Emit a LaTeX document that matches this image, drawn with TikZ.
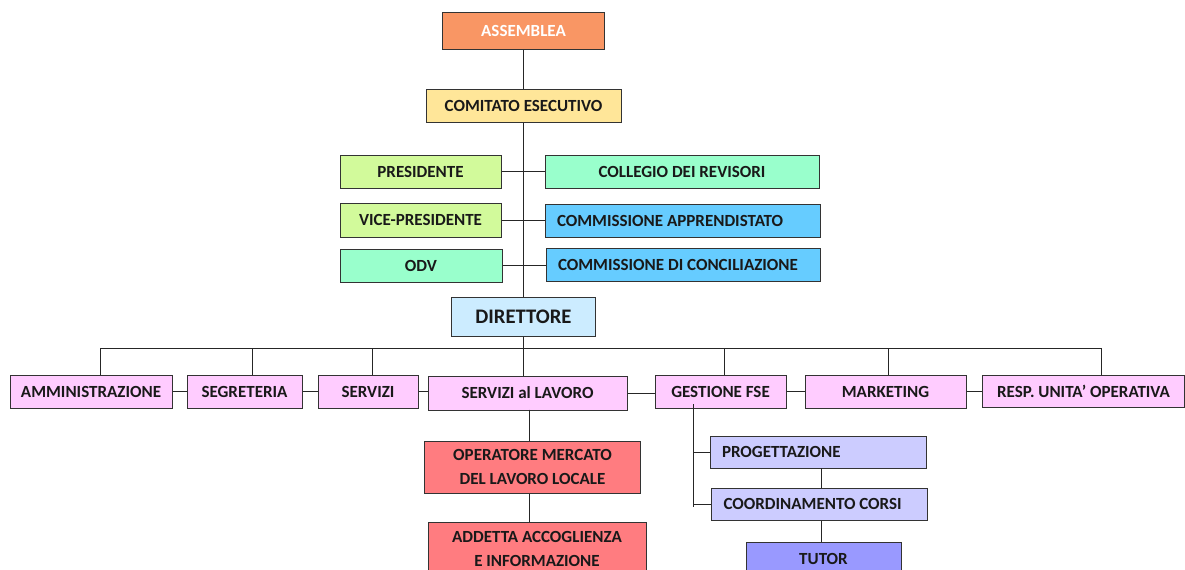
\documentclass[tikz,border=0pt]{standalone}
\usepackage{fontspec}
\setmainfont{Carlito}
\definecolor{assorange}{RGB}{249,150,100}
\definecolor{comyellow}{RGB}{255,230,153}
\definecolor{presgreen}{RGB}{210,250,155}
\definecolor{mint}{RGB}{153,255,204}
\definecolor{commblue}{RGB}{102,204,255}
\definecolor{dirblue}{RGB}{204,236,255}
\definecolor{rowpink}{RGB}{255,204,255}
\definecolor{opred}{RGB}{255,124,128}
\definecolor{lavender}{RGB}{204,204,255}
\definecolor{tutorblue}{RGB}{153,153,255}

\begin{document}
\begin{tikzpicture}[x=0.75pt,y=-0.75pt,
    box/.style={draw=black!80,line width=0.75pt,inner sep=0pt,text=black!90,
      font=\bfseries\fontsize{12.75}{18}\selectfont},
    leftbox/.style={box,inner xsep=9pt,align=flush left},
    twoline/.style={box,align=center},
    link/.style={draw=black!85,line width=0.75pt}]
  \useasboundingbox (0,0) rectangle (1185,569);
  \clip (0,0) rectangle (1185,569);
  % top of the chart
  \node[box,fill=assorange,text=white,minimum width=121.5pt,minimum height=27.75pt] (ass) at (523.5,30.5) {ASSEMBLEA};
  \node[box,fill=comyellow,minimum width=146.25pt,minimum height=24.75pt] (com) at (523.5,105.5) {COMITATO ESECUTIVO};
  \node[box,fill=presgreen,minimum width=120.75pt,minimum height=24.75pt] (pres) at (420.5,171.5) {PRESIDENTE};
  \node[box,fill=mint,minimum width=205.5pt,minimum height=24.75pt] (coll) at (682,171.5) {COLLEGIO DEI REVISORI};
  \node[box,fill=presgreen,minimum width=120.75pt,minimum height=25.5pt] (vice) at (420.5,220) {VICE-PRESIDENTE};
  \node[leftbox,fill=commblue,text width=188.25pt,minimum height=24.75pt] (appr) at (682.5,220.5) {COMMISSIONE APPRENDISTATO};
  \node[box,fill=mint,minimum width=121.5pt,minimum height=24.75pt] (odv) at (421,265.5) {ODV};
  \node[leftbox,fill=commblue,text width=187.5pt,minimum height=24.75pt] (conc) at (683,264.5) {COMMISSIONE DI CONCILIAZIONE};
  \node[box,fill=dirblue,minimum width=108pt,minimum height=29.25pt,font=\bfseries\fontsize{15.5}{18}\selectfont] (dir) at (523.5,316.5) {DIRETTORE};
  % row of offices
  \node[box,fill=rowpink,minimum width=121.5pt,minimum height=24.75pt] (amm) at (91,391.5) {AMMINISTRAZIONE};
  \node[box,fill=rowpink,minimum width=86.25pt,minimum height=24.75pt] (seg) at (244.5,391.5) {SEGRETERIA};
  \node[box,fill=rowpink,minimum width=75pt,minimum height=24.75pt] (serv) at (368,391.5) {SERVIZI};
  \node[box,fill=rowpink,minimum width=149.25pt,minimum height=25.5pt] (lav) at (527.5,393) {SERVIZI al LAVORO};
  \node[box,fill=rowpink,minimum width=98.25pt,minimum height=24.75pt] (gest) at (720.5,391.5) {GESTIONE FSE};
  \node[box,fill=rowpink,minimum width=120.75pt,minimum height=24.75pt] (mkt) at (885.5,391.5) {MARKETING};
  \node[box,fill=rowpink,minimum width=151.5pt,minimum height=24pt] (resp) at (1083.5,391) {RESP. UNITA’ OPERATIVA};
  % lower boxes
  \node[twoline,fill=opred,minimum width=162pt,minimum height=39pt] (op) at (532.5,467) {OPERATORE MERCATO\\DEL LAVORO LOCALE};
  \node[twoline,fill=opred,minimum width=163.5pt,minimum height=39pt] (add) at (537,548.5) {ADDETTA ACCOGLIENZA\\E INFORMAZIONE};
  \node[leftbox,fill=lavender,text width=144pt,minimum height=24pt] (prog) at (818,452) {PROGETTAZIONE};
  \node[leftbox,fill=lavender,text width=144pt,minimum height=24pt] (coord) at (819.5,504) {COORDINAMENTO CORSI};
  \node[box,fill=tutorblue,minimum width=116.25pt,minimum height=24.75pt] (tutor) at (823.5,558.5) {TUTOR};
  % connectors
  \draw[link] (ass) -- (com);
  \draw[link] (com) -- (dir);
  \draw[link] (pres.east) -- (coll.west);
  \draw[link] (vice.east) -- (vice.east -| appr.west);
  \draw[link] (odv.east) -- (odv.east -| conc.west);
  \coordinate (d1) at (100,348);
  \coordinate (d2) at (252,348);
  \coordinate (d3) at (372,348);
  \coordinate (d4) at (523.5,348);
  \coordinate (d5) at (724,348);
  \coordinate (d6) at (888,348);
  \coordinate (d7) at (1101,348);
  \draw[link] (d1) -- (d7);
  \draw[link] (dir.south) -- (d4);
  \foreach \d/\n in {d1/amm,d2/seg,d3/serv,d4/lav,d5/gest,d6/mkt,d7/resp}
    \draw[link] (\d) -- (\d |- \n.north);
  \foreach \a/\b in {amm/seg,seg/serv,serv/lav,lav/gest,gest/mkt,mkt/resp}
    \draw[link] (\a.east) -- (\a.east -| \b.west);
  \coordinate (lx) at (529,409.5);
  \draw[link] (lx) -- (lx |- op.north);
  \draw[link] (lx |- op.south) -- (lx |- add.north);
  \coordinate (gx) at (693,404);
  \draw[link] (gx) -- ([yshift=-2pt]gx |- coord.west);
  \draw[link] (gx |- prog.west) -- (prog.west);
  \draw[link] (gx |- coord.west) -- (coord.west);
  \coordinate (px) at (821.5,468);
  \draw[link] (px) -- (px |- coord.north);
  \draw[link] (px |- coord.south) -- (px |- tutor.north);
\end{tikzpicture}
\end{document}
